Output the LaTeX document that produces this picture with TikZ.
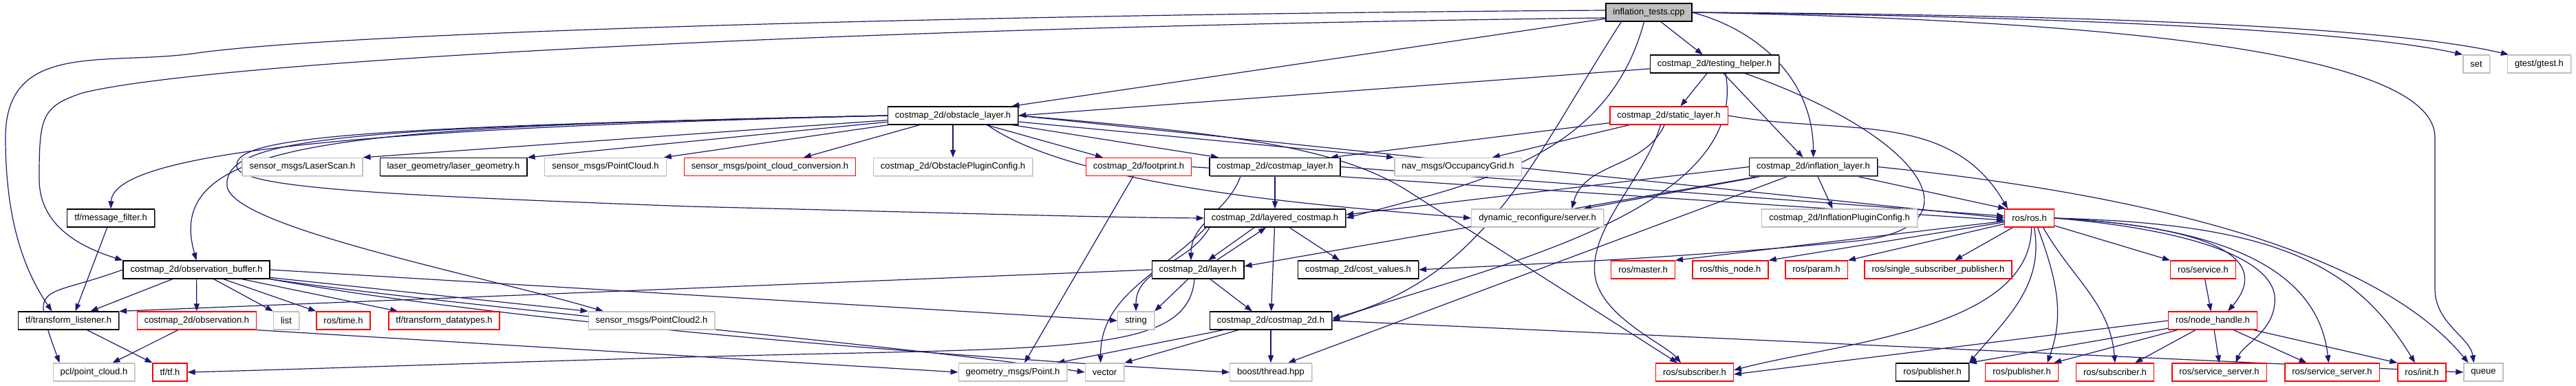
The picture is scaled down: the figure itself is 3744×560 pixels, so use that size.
\documentclass[tikz,border=0pt]{standalone}
\usepackage{fontspec}
\setmainfont{Liberation Sans}
\usetikzlibrary{arrows.meta, shadows}
\definecolor{incblue}{RGB}{25,25,112}
\definecolor{boxgray}{RGB}{191,191,191}
\pgfdeclarelayer{edges}
\pgfsetlayers{edges,main}

\begin{document}
\begin{tikzpicture} [x=1pt, y=-1pt,
  hdr/.style = {rectangle, draw, fill=white, line width=1.3pt, minimum height=26pt,
                inner xsep=10.5pt, inner ysep=0pt, font=\fontsize{13}{15}\selectfont},
  hdrblack/.style = {hdr, draw=black, drop shadow={shadow xshift=1.3pt, shadow yshift=-1.3pt, fill=black!55, opacity=1}},
  hdrgray/.style = {hdr, draw=boxgray, drop shadow={shadow xshift=1.3pt, shadow yshift=-1.3pt, fill=black!15, opacity=1}},
  hdrred/.style = {hdr, draw=red},
  hdrmain/.style = {hdrblack, fill=boxgray},
  inc/.style = {-{Triangle[length=11pt, width=8pt]}, color=incblue, line width=1.2pt}]

\useasboundingbox (0,0) rectangle (3744,560);

% top rows
\node (root) [hdrmain] at (2396.5,18) {inflation\_tests.cpp};
\node (testhelp) [hdrblack] at (2492,93) {costmap\_2d/testing\_helper.h};
\node (set) [hdrgray] at (3599,93) {set};
\node (gtest) [hdrgray] at (3690.5,93) {gtest/gtest.h};
\node (obstacle) [hdrblack] at (1385,168) {costmap\_2d/obstacle\_layer.h};
\node (static) [hdrred] at (2425.5,168) {costmap\_2d/static\_layer.h};

\node (laserscan) [hdrgray] at (439.5,242.5) {sensor\_msgs/LaserScan.h};
\node (lasergeom) [hdrblack] at (659,242.5) {laser\_geometry/laser\_geometry.h};
\node (pointcloud) [hdrgray] at (880,242.5) {sensor\_msgs/PointCloud.h};
\node (pcconv) [hdrred] at (1119,242.5) {sensor\_msgs/point\_cloud\_conversion.h};
\node (obstcfg) [hdrgray] at (1385,242.5) {costmap\_2d/ObstaclePluginConfig.h};
\node (footprint) [hdrred] at (1655,242.5) {costmap\_2d/footprint.h};
\node (costmaplayer) [hdrblack] at (1853,242.5) {costmap\_2d/costmap\_layer.h};
\node (occgrid) [hdrgray] at (2119,242.5) {nav\_msgs/OccupancyGrid.h};
\node (inflation) [hdrblack] at (2635.5,242.5) {costmap\_2d/inflation\_layer.h};

\node (msgfilter) [hdrblack] at (161,317) {tf/message\_filter.h};
\node (layered) [hdrblack] at (1853,317) {costmap\_2d/layered\_costmap.h};
\node (dynrec) [hdrgray] at (2234.5,317) {dynamic\_reconfigure/server.h};
\node (inflcfg) [hdrgray] at (2673.5,317) {costmap\_2d/InflationPluginConfig.h};
\node (rosros) [hdrred] at (2949.5,317) {ros/ros.h};

% middle rows
\node (obsbuf) [hdrblack] at (285.5,392) {costmap\_2d/observation\_buffer.h};
\node (layer) [hdrblack] at (1741,392) {costmap\_2d/layer.h};
\node (costvalues) [hdrblack] at (1974,392) {costmap\_2d/cost\_values.h};
\node (master) [hdrred] at (2388,392) {ros/master.h};
\node (thisnode) [hdrred] at (2515,392) {ros/this\_node.h};
\node (param) [hdrred] at (2640,392) {ros/param.h};
\node (singlesub) [hdrred] at (2817,392) {ros/single\_subscriber\_publisher.h};
\node (service) [hdrred] at (3202,392) {ros/service.h};

\node (tflistener) [hdrblack] at (99.5,466) {tf/transform\_listener.h};
\node (observation) [hdrred] at (286,466) {costmap\_2d/observation.h};
\node (list) [hdrgray] at (416,466) {list};
\node (rostime) [hdrred] at (499,466) {ros/time.h};
\node (tfdatatypes) [hdrred] at (645.5,466) {tf/transform\_datatypes.h};
\node (pc2) [hdrgray] at (947,466) {sensor\_msgs/PointCloud2.h};
\node (string) [hdrgray] at (1651,466) {string};
\node (costmap2d) [hdrblack] at (1847,466) {costmap\_2d/costmap\_2d.h};
\node (nodehandle) [hdrred] at (3216,466) {ros/node\_handle.h};

% bottom row
\node (pclpc) [hdrgray] at (136.5,541) {pcl/point\_cloud.h};
\node (tftf) [hdrred] at (247,541) {tf/tf.h};
\node (point) [hdrgray] at (1472,541) {geometry\_msgs/Point.h};
\node (vector) [hdrgray] at (1605.5,541) {vector};
\node (boostthread) [hdrgray] at (1847,541) {boost/thread.hpp};
\node (rossub) [hdrred] at (2463,541) {ros/subscriber.h};
\node (pubblack) [hdrblack] at (2808.5,541) {ros/publisher.h};
\node (pubred) [hdrred] at (2938.5,541) {ros/publisher.h};
\node (subred) [hdrred] at (3074,541) {ros/subscriber.h};
\node (srvone) [hdrred] at (3225.5,541) {ros/service\_server.h};
\node (srvtwo) [hdrred] at (3389.5,541) {ros/service\_server.h};
\node (init) [hdrred] at (3520,541) {ros/init.h};
\node (queue) [hdrgray] at (3609.5,541) {queue};

\begin{pgfonlayer}{edges}
% inflation_tests.cpp
\path [inc]
	(root) edge ([xshift=-10pt]obstacle.north east)
	(root) edge (testhelp)
	([xshift=-40pt]root.south) edge [out=237, in=15] ([yshift=3pt]costmap2d.east)
	([xshift=-7pt]root.south) edge [out=255, in=15] (layered.east)
	(root.east) edge [out=-15, in=90] (inflation.north);
\draw [inc] ([yshift=3pt]root.west) .. controls (1500,20) and (500,45) .. (280,78)
	.. controls (150,95) and (8,60) .. (8,200) .. controls (8,330) and (40,400) .. ([xshift=-24pt]tflistener.north);
\draw [inc] ([yshift=-8pt]root.west) .. controls (1200,40) and (300,90) .. (120,135)
	.. controls (60,155) and (57,170) .. (57,260) .. controls (57,330) and (120,360) .. (obsbuf.north west);
\draw [inc] (root.east) .. controls (3100,25) and (3450,50) .. (set.north west);
\draw [inc] (root.east) .. controls (3150,22) and (3500,45) .. ([xshift=2pt]gtest.north west);
\draw [inc] (root.east) .. controls (3100,30) and (3539,80) .. (3539,200) -- (3539,420)
	.. controls (3539,470) and (3590,490) .. ([xshift=-14pt]queue.north);

% testing_helper.h
\path [inc]
	(testhelp) edge (obstacle.east)
	(testhelp) edge ([xshift=17pt]static.north)
	(testhelp) edge ([xshift=-15pt]inflation.north)
	([xshift=16pt]testhelp.south) edge [out=-80, in=20, looseness=0.8] (costmap2d.east);
\draw [inc] ([xshift=-50pt]testhelp.south east) .. controls (2800,200) and (2880,330) .. (2700,350)
	.. controls (2450,375) and (2200,385) .. (costvalues.east);

% static_layer.h
\path [inc]
	(static) edge ([xshift=-15pt]costmaplayer.north east)
	(static) edge ([xshift=50pt]occgrid.north)
	(static) edge [out=-115, in=75] ([xshift=50pt]dynrec.north)
	(static.east) edge [out=-10, in=120] ([xshift=5pt]rosros.north west);
\draw [inc] ([xshift=-12pt]static.south) .. controls (2390,260) and (2310,330) .. (2318,400)
	.. controls (2326,460) and (2420,500) .. ([xshift=-20pt]rossub.north);

% obstacle_layer.h
\path [inc]
	(obstacle) edge (laserscan.north east)
	(obstacle) edge (lasergeom.north east)
	(obstacle) edge ([xshift=-4pt]pointcloud.north east)
	(obstacle) edge ([xshift=49pt]pcconv.north)
	(obstacle) edge (obstcfg)
	(obstacle) edge ([xshift=-52pt]footprint.north)
	(obstacle) edge ([xshift=-82pt]costmaplayer.north)
	(obstacle) edge (occgrid.north west)
	([xshift=50pt]obstacle.south) edge [out=-35, in=175, looseness=0.6] (dynrec.west)
	(obstacle.east) edge (rosros.west);
\draw [inc] (obstacle.east) .. controls (1800,195) and (1950,215) .. (2050,280) -- ([xshift=-25pt]rossub.north);
\draw [inc] (obstacle.west) .. controls (600,185) and (165,215) .. (msgfilter.north);
\draw [inc] (obstacle.west) .. controls (500,185) and (235,200) .. (obsbuf.north);
\draw [inc] (obstacle.west) .. controls (500,185) and (325,200) .. (330,270)
	.. controls (335,330) and (700,400) .. ([xshift=-70pt]pc2.north);
\draw [inc] (obstacle.west) .. controls (500,185) and (330,200) .. (345,245)
	.. controls (360,275) and (600,285) .. (1000,300) .. controls (1400,310) and (1600,316) .. (layered.west);

% costmap layers
\path [inc]
	(costmaplayer) edge (layered)
	([xshift=-50pt]costmaplayer.south) edge [out=-110, in=90] ([xshift=-10pt]layer.north)
	(costmaplayer.east) edge ([yshift=3pt]rosros.west)
	(footprint) edge ([xshift=17pt]point.north)
	(footprint.east) edge ([yshift=-3pt]rosros.west)
	([xshift=-30pt]layered.south) edge ([xshift=15pt]layer.north)
	([xshift=27pt]layer.north) edge ([xshift=-13pt]layered.south)
	(layered) edge ([xshift=-27pt]costvalues.north)
	(layered) edge (costmap2d)
	([xshift=-95pt]layered.south) edge [out=-120, in=90] (string.north)
	([xshift=-100pt]layered.south) edge [out=-135, in=90] ([xshift=-6pt]vector.north)
	(layer) edge ([xshift=-27pt]costmap2d.north)
	(layer) edge (string.north east)
	(layer.west) edge (tflistener.north east)
	(costmap2d) edge ([xshift=-15pt]point.north east)
	(costmap2d) edge (vector.north east)
	(costmap2d) edge (boostthread)
	(costmap2d.east) edge (queue.west);
\draw [inc] ([xshift=-5pt]layer.south) .. controls (1728,500) and (1600,505) .. (1250,513)
	.. controls (900,520) and (500,535) .. (tftf.east);

% inflation_layer.h
\path [inc]
	(inflation.west) edge ([yshift=5pt]layered.east)
	(inflation) edge ([yshift=5pt]layer.east)
	(inflation) edge ([xshift=67pt]dynrec.north)
	(inflation) edge ([xshift=-10pt]inflcfg.north)
	(inflation) edge ([xshift=2pt]rosros.north west)
	(inflation) edge ([xshift=25pt]boostthread.north);
\draw [inc] (inflation.east) .. controls (3100,280) and (3450,360) .. ([xshift=-22pt]queue.north);

% observation_buffer.h
\path [inc]
	(msgfilter) edge ([xshift=10pt]tflistener.north)
	(obsbuf) edge ([xshift=32pt]tflistener.north)
	(obsbuf) edge (observation)
	(obsbuf) edge (list.north west)
	(obsbuf) edge (rostime.north west)
	(obsbuf) edge ([xshift=14pt]tfdatatypes.north west)
	(obsbuf) edge (pc2.north west)
	(obsbuf.east) edge (string.west)
	(obsbuf.west) edge [out=200, in=110, looseness=2] ([xshift=-50pt]pclpc.north)
	(observation) edge ([xshift=27pt]pclpc.north)
	(observation.south east) edge (point.west)
	(tflistener) edge (tftf.north west);
\draw [inc] (obsbuf.south east) .. controls (700,450) and (1300,500) .. (vector.west);
\draw [inc] (obsbuf.south east) .. controls (750,470) and (1400,520) .. (boostthread.west);

% ros/ros.h
\path [inc]
	(rosros) edge (master.north east)
	(rosros) edge (thisnode.north east)
	(rosros) edge (param.north east)
	(rosros) edge ([xshift=24pt]singlesub.north)
	(rosros) edge (service.north west)
	([xshift=3pt]rosros.south) edge [out=-90, in=15, looseness=0.8] ([yshift=3pt]rossub.east)
	([xshift=7pt]rosros.south) edge [out=-80, in=50] (pubblack.north east)
	([xshift=12pt]rosros.south) edge [out=-70, in=70] ([xshift=37pt]pubred.north)
	([xshift=20pt]rosros.south) edge [out=-60, in=95] (subred.north);
\draw [inc] (rosros.east) .. controls (3230,330) and (3300,380) .. ([xshift=22pt]nodehandle.north);
\draw [inc] (rosros.east) .. controls (3200,335) and (3300,380) .. (3306,430)
	.. controls (3310,480) and (3260,500) .. ([xshift=24pt]srvone.north);
\draw [inc] (rosros.east) .. controls (3250,330) and (3370,400) .. ([xshift=-5pt]srvtwo.north);
\draw [inc] (rosros.east) .. controls (3300,325) and (3420,380) .. ([xshift=-10pt]init.north);

% ros/node_handle.h
\path [inc]
	(service) edge (nodehandle)
	(nodehandle.west) edge ([yshift=-3pt]rossub.east)
	(nodehandle) edge (pubblack.north east)
	(nodehandle) edge ([xshift=-7pt]pubred.north east)
	(nodehandle) edge ([xshift=29pt]subred.north)
	(nodehandle) edge (srvone.north)
	(nodehandle) edge ([xshift=-37pt]srvtwo.north)
	(nodehandle) edge (init.north west);
\end{pgfonlayer}
\end{tikzpicture}
\end{document}
